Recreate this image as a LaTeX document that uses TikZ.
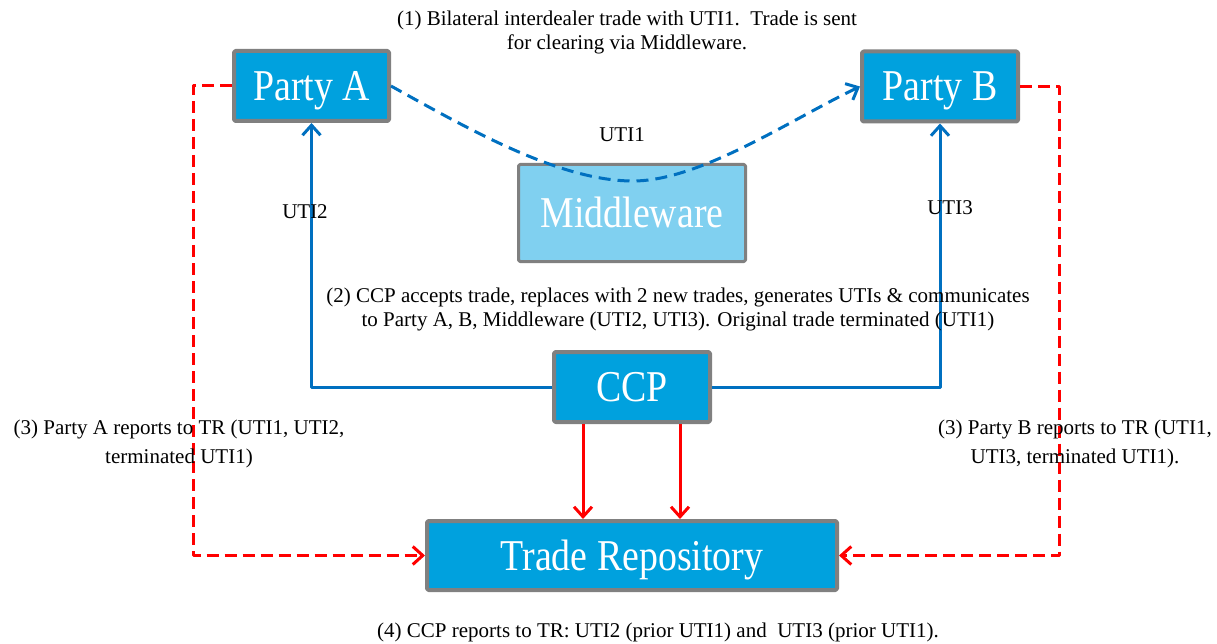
\documentclass[tikz,border=0pt]{standalone}
\usepackage{fontspec}
\setmainfont{Liberation Serif}
\newfontfamily\boxfont[FakeStretch=0.86]{Liberation Serif}
\usetikzlibrary{arrows.meta}
\definecolor{boxblue}{RGB}{0,161,222}
\definecolor{boxgray}{RGB}{128,128,128}
\definecolor{mwblue}{RGB}{128,208,240}
\definecolor{lineblue}{RGB}{0,112,192}
\definecolor{linered}{RGB}{255,0,0}
\tikzset{
	entity/.style={draw=boxgray, line width=4pt, fill=boxblue, text=white, inner sep=0pt, rounded corners=1.5pt, text height=29pt, text depth=0pt, font=\boxfont\fontsize{44}{50}\selectfont},
	note/.style={align=center, inner sep=0pt, font=\fontsize{21}{24}\selectfont},
	bluelink/.style={draw=lineblue, line width=3pt},
	redlink/.style={draw=linered, line width=3pt},
}
\begin{document}
\begin{tikzpicture}[x=1pt, y=-1pt, line join=round, >={Straight Barb[length=10pt,width=18pt]}]
	\useasboundingbox (0,0) rectangle (1217,644);
	% boxes
	\node[entity, minimum width=155pt, minimum height=70pt] (pa) at (311.5,86) {Party A};
	\node[entity, minimum width=156pt, minimum height=70pt] (pb) at (940,86.5) {Party B};
	\node[entity, fill=mwblue, line width=3pt, minimum width=227pt, minimum height=97pt] (mw) at (632,213) {Middleware};
	\node[entity, minimum width=156pt, minimum height=70pt] (ccp) at (632,387) {CCP};
	\node[entity, minimum width=410pt, minimum height=69pt] (tr) at (632,555.5) {Trade Repository};
	% trade sent via middleware
	\coordinate (dip) at (633,181);
	\draw[bluelink, dash pattern=on 12pt off 7pt, ->] (pa.east) .. controls (470,130) and (560,181) .. (dip) .. controls (700,181) and (790,120) .. (pb.west);
	% new trades back to the parties
	\draw[bluelink, ->] (ccp.west) -| (pa.south);
	\draw[bluelink, ->] (ccp.east) -| (pb.south);
	% reporting
	\draw[redlink, ->] ([xshift=-49pt]ccp.south) -- ([xshift=-49pt]tr.north);
	\draw[redlink, ->] ([xshift=48pt]ccp.south) -- ([xshift=48pt]tr.north);
	\draw[redlink, dash pattern=on 12pt off 6pt, ->] (pa.west) -- ++(-39,0) |- (tr.west);
	\draw[redlink, dash pattern=on 12pt off 6pt, ->] (pb.east) -- ++(39,0) |- (tr.east);
	% labels
	\node[note] (hdr) at (627,32) {(1) Bilateral interdealer trade with UTI1.\ \ Trade is sent\\for clearing via Middleware.};
	\node[note] (uti1) at (622,135) {UTI1};
	\node[note] (uti2) at (305,212) {UTI2};
	\node[note] (uti3) at (950,208) {UTI3};
	\node[note] (step2) at (678,309) {(2) CCP accepts trade, replaces with 2 new trades, generates UTIs \& communicates\\to Party A, B, Middleware (UTI2, UTI3). Original trade terminated (UTI1)};
	\node[note, font=\fontsize{21}{29}\selectfont] (step3a) at (179,444) {(3) Party A reports to TR (UTI1, UTI2,\\terminated UTI1)};
	\node[note, font=\fontsize{21}{29}\selectfont] (step3b) at (1075,444) {(3) Party B reports to TR (UTI1,\\UTI3, terminated UTI1).};
	\node[note] (step4) at (658,632) {(4) CCP reports to TR: UTI2 (prior UTI1) and\ \ UTI3 (prior UTI1).};
\end{tikzpicture}
\end{document}
